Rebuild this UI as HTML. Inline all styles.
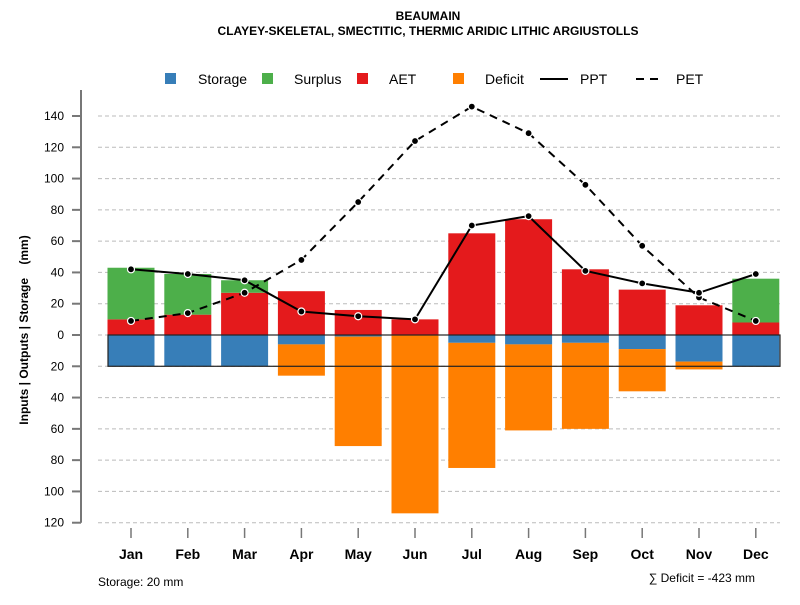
<!DOCTYPE html>
<html><head><meta charset="utf-8"><style>
body{margin:0;background:#fff;font-family:"Liberation Sans",sans-serif}
</style></head><body>
<svg id="c" width="800" height="600" xmlns="http://www.w3.org/2000/svg" font-family="Liberation Sans, sans-serif">
<text x="428" y="20" text-anchor="middle" font-size="12" font-weight="bold">BEAUMAIN</text>
<text x="428" y="35" text-anchor="middle" font-size="12" font-weight="bold">CLAYEY-SKELETAL, SMECTITIC, THERMIC ARIDIC LITHIC ARGIUSTOLLS</text>
<g id="legend" font-size="14">
<rect x="165" y="73" width="11" height="11" fill="#377eb8"/><text x="198" y="84">Storage</text>
<rect x="262" y="73" width="11" height="11" fill="#4daf4a"/><text x="294" y="84">Surplus</text>
<rect x="357" y="73" width="11" height="11" fill="#e41a1c"/><text x="389" y="84">AET</text>
<rect x="453" y="73" width="11" height="11" fill="#ff7f00"/><text x="485" y="84">Deficit</text>
<line x1="540" y1="79" x2="568" y2="79" stroke="#000" stroke-width="2"/><text x="580" y="84">PPT</text>
<line x1="636" y1="79" x2="664" y2="79" stroke="#000" stroke-width="2" stroke-dasharray="8,6"/><text x="676" y="84">PET</text>
</g>
<g id="grid"></g><g id="bars"></g><g id="lines"></g><g id="axes"></g>
<text transform="translate(28,330) rotate(-90)" text-anchor="middle" font-size="12" font-weight="bold">Inputs | Outputs | Storage&#160;&#160;&#160;&#160;(mm)</text>
<text x="98" y="586" font-size="12">Storage: 20 mm</text>
<text x="755" y="582" text-anchor="end" font-size="12">∑ Deficit = -423 mm</text>
</svg>
<script>
const months=["Jan","Feb","Mar","Apr","May","Jun","Jul","Aug","Sep","Oct","Nov","Dec"];
const ppt=[42,39,35,15,12,10,70,76,41,33,27,39];
const pet=[9,14,27,48,85,124,146,129,96,57,24,9];
const aet=[10,13,27,28,16,10,65,74,42,29,19,8];
const surplus=[33,26,8,0,0,0,0,0,0,0,0,28];
const storageBelow=[20,20,20,6,1,0,5,6,5,9,17,20];
const deficit=[0,0,0,20,70,114,80,55,55,27,5,0];
const yTicks=[140,120,100,80,60,40,20,0,20,40,60,80,100,120];
const yTickVals=[140,120,100,80,60,40,20,0,-20,-40,-60,-80,-100,-120];
const NS="http://www.w3.org/2000/svg";
const Y=v=>335-v*1.5643;
const X=i=>131+i*56.8;
const bw=47;
function mk(p,t,a){const e=document.createElementNS(NS,t);for(const k in a)e.setAttribute(k,a[k]);document.getElementById(p).appendChild(e);return e;}
yTickVals.forEach((v,i)=>{
 const g=mk('grid','line',{x1:98,x2:780,y1:Y(v),y2:Y(v),stroke:'#bbb','stroke-dasharray':'4,3'});
 
 
 const t=mk('axes','line',{x1:72,x2:81,y1:Y(v),y2:Y(v),stroke:'#777','stroke-width':2});
 
 
 const l=mk('axes','text',{x:64,y:Y(v)+4,'text-anchor':'end','font-size':12});
 l.textContent=yTicks[i];
 
 
});
const ax=mk('axes','line',{x1:81,x2:81,y1:90,y2:Y(-120),stroke:'#777','stroke-width':2});


months.forEach((m,i)=>{
 const x=X(i),x0=x-bw/2;
 function bar(y1,y2,c,n){const r=mk('bars','rect',{x:x0,y:Math.min(Y(y1),Y(y2)),width:bw,height:Math.abs(Y(y1)-Y(y2)),fill:c});
  
  }
 bar(0,aet[i],'#e41a1c','bar-aet-'+m.toLowerCase());
 if(surplus[i]>0)bar(aet[i],aet[i]+surplus[i],'#4daf4a','bar-surplus-'+m.toLowerCase());
 if(storageBelow[i]>0)bar(0,-storageBelow[i],'#377eb8','bar-storage-'+m.toLowerCase());
 if(deficit[i]>0)bar(-storageBelow[i],-storageBelow[i]-deficit[i],'#ff7f00','bar-deficit-'+m.toLowerCase());
 const t=mk('axes','line',{x1:x,x2:x,y1:528,y2:538,stroke:'#777','stroke-width':1.5});
 
 
 const l=mk('axes','text',{x:x,y:559,'text-anchor':'middle','font-size':14,'font-weight':'bold'});
 l.textContent=m;
 
 
});
const box=mk('bars','rect',{x:108,y:Y(0),width:672,height:Y(-20)-Y(0),fill:'none',stroke:'#222','stroke-width':1.2});


function series(arr,dash,n){
 const p=mk('lines','polyline',{points:arr.map((v,i)=>X(i)+','+Y(v)).join(' '),fill:'none',stroke:'#000','stroke-width':2,'stroke-dasharray':dash});
 
 
 arr.forEach((v,i)=>{const c=mk('lines','circle',{cx:X(i),cy:Y(v),r:3.5,fill:'#000',stroke:'#fff','stroke-width':1.2});
  
  });
}
series(pet,'8,6','pet');
series(ppt,'none','ppt');
</script>
</body></html>
